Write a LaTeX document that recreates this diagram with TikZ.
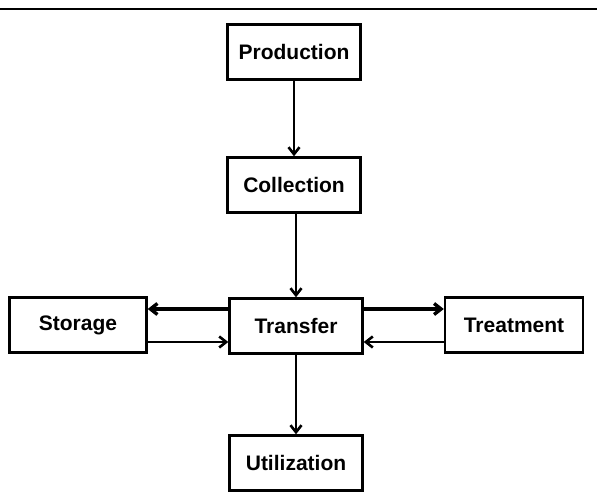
\documentclass[tikz,border=0pt]{standalone}
\usepackage{fontspec}
\setmainfont{Liberation Sans}
\usetikzlibrary{arrows.meta}

\begin{document}
\begin{tikzpicture}[>={Straight Barb[length=7pt,width=11pt]}, x=1pt, y=-1pt,
        stagebox/.style={draw, line width=2.4pt, minimum width=133pt,
            minimum height=55pt, inner sep=0pt,
            font=\fontsize{21}{24}\selectfont\bfseries},
        flow/.style={line width=2.6pt, ->}]
        \useasboundingbox (0, 0) rectangle (597, 492);
        \draw[line width=1.8pt] (0, 9) -- (597, 9);
        % the main line
        \node[stagebox] (Production) at (294, 52) {Production};
        \node[stagebox] (Collection) at (294, 185) {Collection};
        \node[stagebox] (Transfer) at (296, 326) {Transfer};
        \node[stagebox] (Utilization) at (296, 463) {Utilization};
        % side stages
        \node[stagebox, minimum width=137pt] (Storage) at (78, 325) {Storage};
        \node[stagebox, minimum width=138pt] (Treatment) at (514, 325) {Treatment};
        \draw[flow] (Production) -- (Collection);
        \draw[flow] (Collection.south -| Transfer) -- (Transfer);
        \draw[flow] (Transfer) -- (Utilization);
        \draw[flow, line width=3.4pt] ([yshift=17pt]Transfer.west) -- ([yshift=17pt]Transfer.west -| Storage.east);
        \draw[flow] ([yshift=-17pt]Storage.east) -- ([yshift=-17pt]Storage.east -| Transfer.west);
        \draw[flow, line width=3.4pt] ([yshift=17pt]Transfer.east) -- ([yshift=17pt]Transfer.east -| Treatment.west);
        \draw[flow] ([yshift=-17pt]Treatment.west) -- ([yshift=-17pt]Treatment.west -| Transfer.east);
    \end{tikzpicture}
\end{document}
